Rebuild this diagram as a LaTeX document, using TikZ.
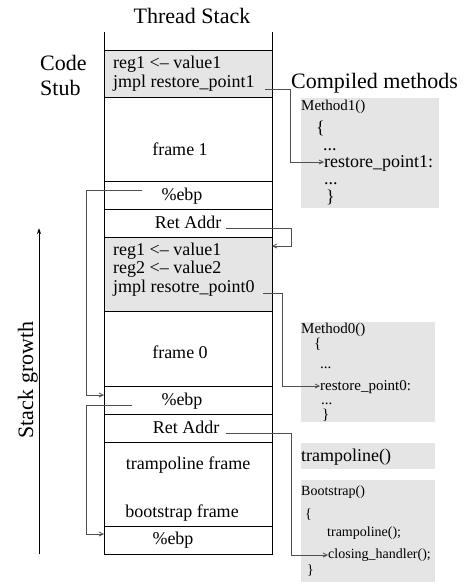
\documentclass[tikz,border=0pt]{standalone}
\usepackage{fontspec}
\setmainfont{Liberation Serif}
\usetikzlibrary{arrows.meta}
\definecolor{boxgray}{HTML}{E5E5E5}
\definecolor{linegray}{HTML}{505050}
\tikzset{
  stacktxt/.style={inner sep=0pt, font=\fontsize{18}{18}\selectfont},
  headtxt/.style={inner sep=0pt, font=\fontsize{22}{22}\selectfont},
  smalltxt/.style={inner sep=0pt, font=\fontsize{15}{15}\selectfont},
  tinytxt/.style={inner sep=0pt, font=\fontsize{14}{14}\selectfont},
  conn/.style={draw=linegray, line width=0.8pt},
  tip/.style={-{Straight Barb[length=4pt,width=4pt]}},
  cell/.style={line width=0.8pt},
}
\begin{document}
\begin{tikzpicture}[x=1pt,y=-1pt]
\useasboundingbox (0,0) rectangle (464,582);
% gray boxes
\fill[boxgray] (104,50) rectangle (272,97);
\fill[boxgray] (104,237) rectangle (272,311);
\fill[boxgray] (301,98) rectangle (439,208);
\fill[boxgray] (301,322) rectangle (435,422);
\fill[boxgray] (301,443) rectangle (435,469);
\fill[boxgray] (301,480) rectangle (435,582);
% stack outline
\draw[cell] (104,32) -- (104,554) -- (272,554) -- (272,32);
\foreach \yy in {50,97,181,209,237,311,386,414,442,526}
  \draw[cell] (104,\yy) -- (272,\yy);
% titles
\node[headtxt, anchor=base] (title) at (192,23) {Thread Stack};
\node[headtxt, anchor=base west] (code) at (40,70) {Code};
\node[headtxt, anchor=base west] (stub) at (40,95) {Stub};
\node[headtxt, anchor=base west] (compiled) at (291,88) {Compiled methods};
% stack texts
\node[stacktxt, anchor=base west] (s1a) at (113,68) {reg1 <\textendash{} value1};
\node[stacktxt, anchor=base west] (s1b) at (113,87) {jmpl restore\_point1};
\node[stacktxt, anchor=base] (f1) at (180,155) {frame 1};
\node[stacktxt, anchor=base] (ebp1) at (182,200) {\%ebp};
\node[stacktxt, anchor=base] (ret1) at (188,228) {Ret Addr};
\node[stacktxt, anchor=base west] (s0a) at (113,255) {reg1 <\textendash{} value1};
\node[stacktxt, anchor=base west] (s0b) at (113,273) {reg2 <\textendash{} value2};
\node[stacktxt, anchor=base west] (s0c) at (113,292) {jmpl resotre\_point0};
\node[stacktxt, anchor=base] (f0) at (180,358) {frame 0};
\node[stacktxt, anchor=base] (ebp0) at (182,405) {\%ebp};
\node[stacktxt, anchor=base] (ret0) at (186,433) {Ret Addr};
\node[stacktxt, anchor=base] (tf) at (188,469) {trampoline frame};
\node[stacktxt, anchor=base] (bf) at (182,517) {bootstrap frame};
\node[stacktxt, anchor=base] (ebpb) at (173,544) {\%ebp};
% Method1
\node[smalltxt, anchor=base west] (m1) at (301,110) {Method1()};
\node[stacktxt, anchor=base west] (m1o) at (316,133) {\{};
\node[stacktxt, anchor=base west] (m1d1) at (323,150) {...};
\node[stacktxt, anchor=base west] (rp1) at (324,167) {restore\_point1:};
\node[stacktxt, anchor=base west] (m1d2) at (324,184) {...};
\node[stacktxt, anchor=base west] (m1c) at (326,202) {\}};
% Method0
\node[smalltxt, anchor=base west] (m0) at (301,333) {Method0()};
\node[smalltxt, anchor=base west] (m0o) at (314,348) {\{};
\node[smalltxt, anchor=base west] (m0d1) at (320,368) {...};
\node[smalltxt, anchor=base west] (rp0) at (320,390) {restore\_point0:};
\node[smalltxt, anchor=base west] (m0d2) at (321,404) {...};
\node[smalltxt, anchor=base west] (m0c) at (322,419) {\}};
% trampoline / bootstrap
\node[stacktxt, anchor=base west] (tr) at (301,461) {trampoline()};
\node[tinytxt, anchor=base west] (bs) at (301,495) {Bootstrap()};
\node[tinytxt, anchor=base west] (bso) at (305,518) {\{};
\node[tinytxt, anchor=base west] (bst) at (327,536) {trampoline();};
\node[tinytxt, anchor=base west] (bsc) at (328,558) {closing\_handler();};
\node[tinytxt, anchor=base west] (bsx) at (307,574) {\}};
% connector coordinates
\coordinate (j1s) at (265,89);
\coordinate (j1e) at (rp1.west |- 0,162);
\coordinate (r1s) at (226,228);
\coordinate (r1e) at (272,246);
\coordinate (j0s) at (263,293);
\coordinate (j0e) at (rp0.west |- 0,386);
\coordinate (e1s) at (142,190);
\coordinate (e1e) at (104,395);
\coordinate (e0s) at (132,405);
\coordinate (e0e) at (104,534);
\coordinate (r0s) at (226,433);
\coordinate (r0e) at (bsc.west |- 0,555);
% connectors
\draw[conn, tip] (j1s) -- (290,89) |- (j1e);
\draw[conn, tip] (r1s) -- (291,228) |- (r1e);
\draw[conn, tip] (j0s) -- (282,293) |- (j0e);
\draw[conn, tip] (e1s) -- (86,190) |- (e1e);
\draw[conn, tip] (e0s) -- (86,405) |- (e0e);
\draw[conn, tip] (r0s) -- (291,433) |- (r0e);
% stack growth
\coordinate (gb) at (39,554);
\coordinate (gt) at (39,228);
\draw[line width=0.8pt, -{Stealth[length=6pt,width=4pt]}] (gb) -- (gt);
\node[headtxt, anchor=base, rotate=90] (growth) at (33,380) {Stack growth};
\end{tikzpicture}
\end{document}
